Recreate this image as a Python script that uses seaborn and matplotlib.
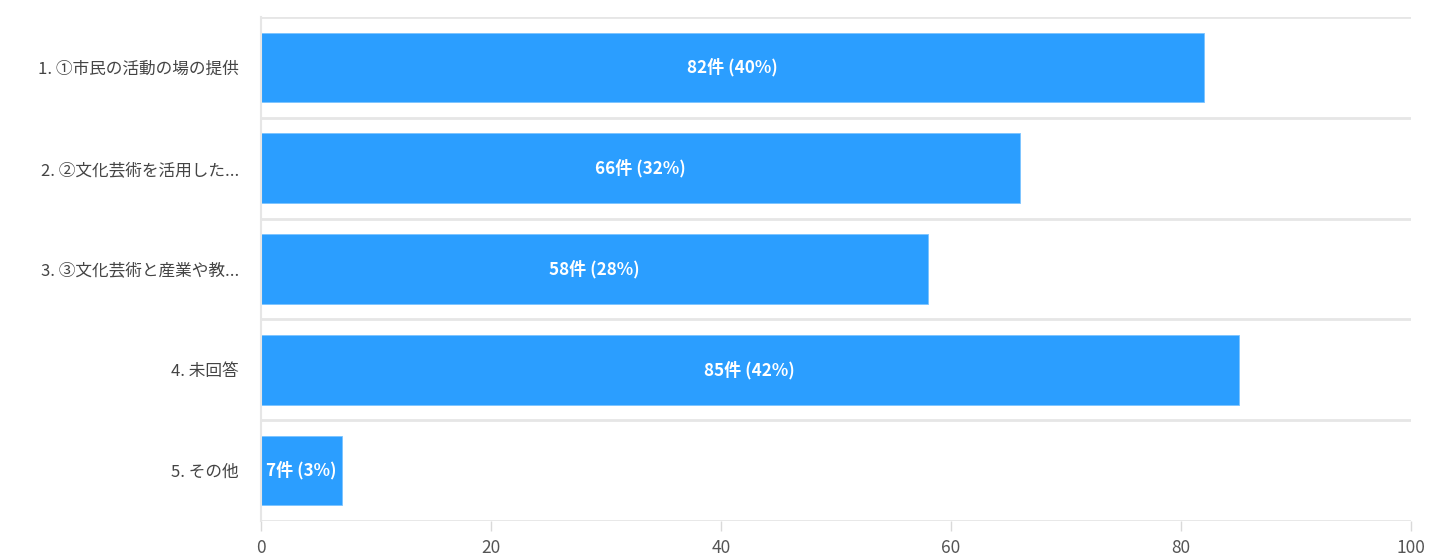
import matplotlib
matplotlib.use("Agg")
import matplotlib.pyplot as plt
import pandas as pd
import seaborn as sns

categories = [
    "1. ①市民の活動の場の提供",
    "2. ②文化芸術を活用した...",
    "3. ③文化芸術と産業や教...",
    "4. 未回答",
    "5. その他",
]
counts = [82, 66, 58, 85, 7]
percents = [40, 32, 28, 42, 3]
x_ticks = [0, 20, 40, 60, 80, 100]

df = pd.DataFrame({"category": categories, "count": counts})

sns.set_theme(style="white")
plt.rcParams["font.family"] = ["Noto Sans CJK JP", "DejaVu Sans"]

fig = plt.figure(figsize=(14.3, 5.59), dpi=100)
ax = fig.add_axes([261 / 1430, 1 - 521 / 559, 1150 / 1430, 504 / 559])

sns.barplot(data=df, x="count", y="category", color="#2b9eff",
            saturation=1, width=0.69, ax=ax, edgecolor="#7cc4ff", linewidth=0.6)

for i, (c, p) in enumerate(zip(counts, percents)):
    ax.text(c / 2, i, f"{c}件 ({p}%)", ha="center", va="center",
            color="white", fontsize=12.3, fontweight="bold")

ax.set_xlim(0, 100)
ax.set_ylim(len(categories) - 0.5, -0.5)
ax.set_xticks(x_ticks)
ax.set_xlabel("")
ax.set_ylabel("")

# grid lines between the categories
ax.set_yticks([i - 0.5 for i in range(len(categories) + 1)], minor=True)
ax.grid(which="minor", axis="y", color="#e6e6e6", linewidth=2)
ax.grid(which="major", axis="x", visible=False)
ax.set_axisbelow(True)

for side in ["top", "right", "bottom"]:
    ax.spines[side].set_visible(False)
ax.spines["left"].set_color("#e6e6e6")
ax.spines["left"].set_linewidth(1.5)

ax.tick_params(axis="y", which="both", length=0, pad=16, labelsize=12,
               labelcolor="#444444")
ax.tick_params(axis="x", which="major", length=7, width=1, color="#d9d9d9",
               pad=6, labelsize=12.5, labelcolor="#555555", bottom=True)

fig.savefig("out.png", dpi=100)
